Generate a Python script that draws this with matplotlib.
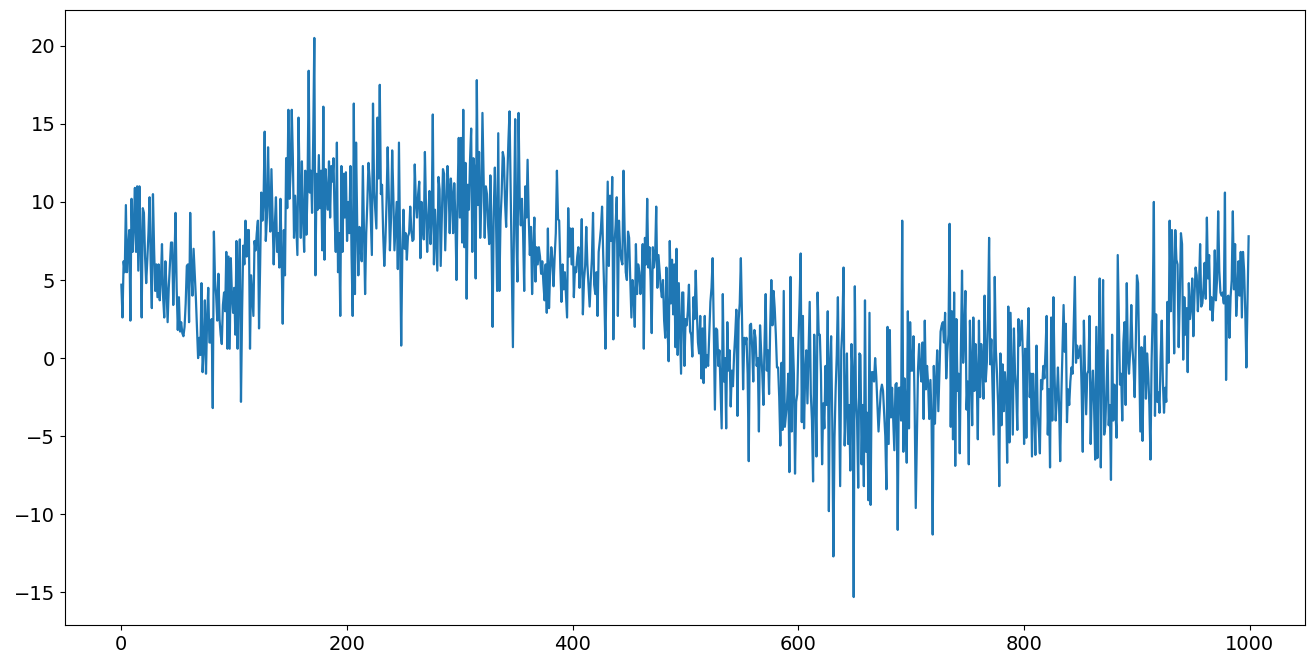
import numpy as np
import matplotlib
matplotlib.use("Agg")
import matplotlib.pyplot as plt

# values, in blocks of ~100 samples
seg_a = [4.7, 2.6, 6.2, 5.5, 9.8, 5.5, 7.0, 8.2, 2.4, 10.2,
         6.8, 8.5, 10.9, 6.8, 11.0, 5.6, 11.0, 7.5, 2.6, 9.6,
         9.3, 6.5, 4.8, 6.3, 8.0, 10.3, 6.0, 3.2, 10.5, 7.0,
         4.3, 6.0, 3.9, 6.0, 3.7, 5.0, 7.3, 3.9, 2.6, 6.2,
         4.5, 2.3, 4.5, 6.0, 7.4, 7.4, 3.4, 6.0, 9.3, 4.5,
         1.8, 3.9, 1.7, 2.3, 1.6, 1.4, 2.0, 3.5, 5.9, 6.0,
         2.3, 9.3, 5.5, 4.0, 7.0, 5.5, 3.9, 2.0, 0.0, 1.3,
         0.2, 4.8, -0.9, 0.6, 3.7, -1.0, 2.5, 4.5, 1.0, 1.0,
         2.5, -3.2, 8.1, 5.0, 4.0, 2.4, 5.4, 2.5, 1.5, 0.9,
         3.4, 4.2, 3.0, 6.8, 0.6, 6.5]

seg_b = [0.6, 6.4, 4.0, 2.9, 4.5, 1.5, 7.5, 0.6, 5.0, 7.6,
         -2.8, 3.0, 7.2, 6.0, 8.8, 6.5, 8.2, 8.2, 0.6, 5.3,
         4.0, 2.7, 7.5, 6.9, 8.0, 8.8, 1.9, 6.0, 10.6, 8.8,
         10.0, 14.5, 7.5, 9.0, 13.5, 10.0, 8.1, 12.1, 9.0, 6.0,
         8.5, 10.3, 6.8, 8.0, 5.8, 10.2, 6.5, 2.2, 8.2, 5.3,
         12.8, 9.6, 15.9, 10.2, 12.0, 15.9, 12.8, 7.7, 10.4, 8.5,
         6.6, 15.4, 11.0, 7.7, 12.6, 9.0, 6.8, 12.0, 7.9, 11.0,
         18.4, 10.6, 12.0, 9.3, 14.0, 20.5, 5.3, 11.8, 9.5, 13.0,
         9.6, 12.0, 6.9, 16.1, 6.3, 12.1, 10.6, 9.5, 12.6, 9.0,
         12.3, 11.3, 12.8, 9.0, 6.8, 13.8, 5.5, 8.0, 2.7, 12.3,
         6.8, 11.8]

seg_c = [9.0, 11.9, 7.5, 10.0, 8.0, 12.3, 6.6, 2.7, 16.3, 4.1, 13.8,
         8.6, 5.3, 8.4, 7.0, 6.2, 12.3, 8.0, 4.1, 8.0, 10.0,
         12.5, 11.5, 9.0, 6.6, 16.3, 10.7, 9.5, 8.3, 15.4, 11.5,
         17.5, 10.5, 11.1, 8.0, 5.9, 7.5, 10.0, 13.5, 10.5, 6.9,
         9.0, 13.3, 10.5, 6.9, 8.5, 10.0, 5.7, 13.8, 7.0, 0.8,
         6.9, 9.5, 7.0, 8.0, 6.3, 7.8, 8.0, 9.7, 8.2, 7.5,
         7.6, 12.4, 10.0, 9.0, 10.5, 11.3, 6.4, 10.0, 8.5, 7.6,
         13.2, 9.5, 6.8, 9.0, 10.7, 7.3, 9.0, 15.6, 6.0, 9.5,
         7.5, 5.6, 11.6, 10.8, 5.9, 9.0, 12.1, 11.8, 6.9, 9.5,
         12.3, 11.0, 8.0, 11.5, 10.5, 8.0, 11.2, 9.0]

seg_d = [5.0, 10.5, 14.1, 9.0, 14.1, 7.4, 15.9, 7.1, 12.5, 3.8,
         11.1, 9.5, 12.7, 14.7, 6.8, 12.8, 12.0, 5.1, 17.8, 9.8,
         13.2, 7.7, 10.0, 15.7, 11.6, 7.7, 11.0, 10.5, 8.5, 7.3,
         11.7, 8.0, 2.0, 9.4, 12.2, 9.0, 4.3, 14.4, 4.3, 8.8,
         10.5, 13.2, 12.8, 10.0, 8.4, 11.5, 13.9, 15.8, 10.9, 6.0,
         0.7, 9.0, 15.3, 8.0, 4.9, 15.7, 10.3, 8.5, 10.2, 8.0,
         4.3, 11.0, 9.0, 12.7, 9.0, 6.6, 8.4, 4.1, 7.0, 9.0,
         4.9, 7.1, 6.0, 7.1, 6.5, 5.4, 6.2, 4.8, 3.7, 6.0,
         2.9, 8.3, 3.2, 5.5, 7.1, 6.3, 4.6, 6.5, 8.0, 12.0,
         8.9, 8.8, 5.8, 3.6, 6.0, 4.4, 5.5, 4.0, 2.6, 9.6,
         6.5, 8.3, 6.0]

seg_e = [8.3, 3.9, 5.8, 5.5, 6.5, 7.1, 4.5, 6.0, 8.9, 2.8,
         5.0, 5.9, 8.4, 6.0, 4.7, 3.3, 5.0, 6.4, 9.3, 4.7,
         4.1, 5.5, 2.7, 6.8, 7.5, 8.3, 9.7, 6.6, 4.0, 0.6,
         6.0, 11.3, 5.9, 10.4, 7.5, 11.6, 1.2, 7.3, 8.5, 10.3,
         2.7, 8.8, 7.0, 6.3, 6.0, 12.0, 8.1, 5.5, 5.0, 8.1,
         7.7, 5.0, 2.6, 5.0, 4.0, 2.0, 7.3, 4.1, 6.0, 5.5,
         4.1, 5.0, 7.3, 0.6, 7.7, 6.0, 10.2, 5.8, 7.1, 5.0,
         1.6, 7.1, 5.8, 6.5, 9.7, 4.5, 6.6, 5.5, 4.5, 3.9,
         5.0, 2.4, 1.3, 5.8, 2.0, -0.2, 7.5, 3.5, 6.3, 2.8,
         6.0, 0.7, 7.0, 0.2, 4.8, 2.0, -1.0, 4.2, 4.2, -0.5,
         2.5, 2.1, 3.0, 4.7, 1.7]

seg_f = [1.5, 0.1, 3.9, 2.5, 5.6, 3.0, 1.0, 0.3, 2.7, -1.3,
         1.9, -1.6, 2.7, -0.6, 0.2, -0.5, 1.5, 3.6, 4.5, 6.4,
         1.9, -3.3, 1.9, 1.8, -0.5, 0.5, -2.0, -4.5, 4.1, -1.5,
         0.0, -4.5, 2.3, -0.8, 0.5, -3.1, -0.8, -1.8, 0.2, 1.5,
         3.1, -3.7, 2.4, 3.5, 6.4, 2.7, -2.0, 1.3, 0.9, 1.3,
         -1.0, -6.6, 2.1, 2.2, 0.7, -1.5, 1.8, 1.3, -0.5, 0.0,
         -4.7, 2.1, 0.4, -1.0, -3.0, 1.0, 4.1, -0.8, 0.5, -2.3,
         2.0, 5.0, 2.1, 4.3, 3.2, 1.5, -0.6, -0.6, -2.5, -5.6,
         -0.3, -4.6, 4.3, -4.4, -3.6, -2.8, -1.0, -7.3, 5.2, -4.7,
         1.3, -1.0, -7.4, -2.8, -2.3, 1.0, 3.5, 6.7, -4.1, 2.7]

seg_g = [-4.5, -1.0, 0.5, -2.9, 0.5, 3.6, -2.3, -4.0, -7.9, 1.5,
         -1.5, -6.3, 4.2, 1.5, 1.5, -1.0, -6.8, -2.9, -4.5, -0.5,
         -3.0, 3.0, -9.8, -0.4, 1.4, -4.0, -12.7, -5.1, -2.0, 0.2,
         3.9, -2.0, -8.2, 0.5, 2.0, 5.8, -5.6, -3.2, 0.3, -5.5,
         -3.0, -7.2, 0.9, -1.0, -15.3, 4.6, -2.5, -4.0, -8.3, 0.3,
         0.2, -6.8, -3.0, -8.2, 3.7, -6.0, -3.5, -9.1, 2.9, -9.4,
         -0.9, -0.9, -1.5, 0.0, -1.2, -3.0, -4.7, -3.4, -2.1, -1.7,
         -2.1, -3.5, -5.0, -8.4, 2.0, -5.5, 1.8, -3.8, -1.9, -4.0,
         -5.9, -1.7, -1.6, -11.0, -1.9, -1.9, -4.0, 8.8, -6.0, -1.3,
         -3.0, -6.7, 3.0, -4.5, 2.3, -0.8, -0.8, 1.4, -3.0, -9.6,
         -5.1, -0.7, 0.9]

seg_h = [-0.7, -1.5, 1.0, -3.9, 2.4, -2.0, -0.5, -1.7, -3.9, -1.4,
         -3.9, -11.3, -0.5, -4.2, -1.5, 0.5, -3.4, -0.8, 1.7, 2.1,
         2.3, 1.0, 2.9, -1.3, 0.4, 1.5, 8.6, -4.4, 3.0, -5.2,
         4.2, -6.9, 2.5, -2.1, -1.0, -6.1, 0.5, 5.6, -0.3, 1.5,
         4.3, -3.3, -1.5, -6.8, 2.4, -0.5, -4.3, 2.6, -2.1, 0.9,
         -1.0, -5.2, 2.4, -2.5, 0.9, -0.5, -2.6, 4.0, -1.5, -0.3,
         2.5, 7.7, -0.4, 1.2, -2.0, -4.9, 5.2, 0.5, -1.0, -3.0,
         -8.2, 0.3, -4.3, -0.4, -3.4, -0.9, -2.0, -6.7, 3.3, -5.4,
         2.9, -1.0, -4.9, 1.9, -1.0, -2.0, -4.6, 2.5, 0.8, 1.5,
         2.4, 0.0, -5.5, 0.6, -5.1, 1.0, 3.2, -2.5, -1.0, -6.3,
         -1.0, -3.0, -6.2]

seg_i = [0.8, -3.3, -4.5, -6.1, -1.4, -2.0, -0.5, -1.3, 0.5, 2.7,
         -4.9, -2.0, -7.0, 2.6, -4.0, 3.9, -1.0, -4.0, -2.5, -0.6,
         -3.0, -6.6, -2.5, 0.5, 3.4, 0.4, 2.2, -4.1, -2.0, -3.0,
         -1.5, -0.6, -1.0, 2.0, 5.2, -0.3, 0.8, 0.0, 0.4, 0.8,
         -2.0, -6.0, 2.4, -1.0, -3.6, -1.0, -0.8, 2.7, -5.5, -2.3,
         -0.8, -3.0, -6.5, 2.0, -6.4, 0.0, 5.1, -7.0, -0.5, 5.0,
         -4.9, -4.3, -2.0, 0.5, -4.3, -3.0, -7.8, 1.5, -4.0, -1.7,
         -3.5, -5.1, 6.6, 2.4, -1.7, -1.0, -4.0, 1.0, 2.3, -3.0,
         4.8, 0.0, -1.0, 0.5, 3.4, 0.7, -0.5, -2.5, 1.0, 5.3,
         4.8, 0.0, -4.7, 0.7, -5.3, -0.2, 1.4, -2.6, 0.3, -1.0,
         -3.0, -6.5]

seg_j = [-0.2, 3.0, 10.0, -3.7, 2.8, -2.8, -2.2, -3.5, 0.0, 2.4,
         -1.5, -3.5, -1.9, -2.8, 3.6, -0.3, 8.8, 3.0, 8.2, 5.6,
         0.3, 8.2, 6.3, 6.0, 0.7, 4.0, 8.0, 7.3, -0.1, 3.9,
         1.5, 3.2, -0.9, 4.8, 2.5, 3.3, 5.1, 1.4, 4.0, 5.8,
         5.3, 3.0, 4.5, 7.3, 3.3, 3.5, 4.5, 6.1, 3.8, 9.0,
         5.1, 6.6, 3.1, 3.9, 2.4, 3.8, 6.9, 3.7, 5.0, 9.4,
         5.6, 4.2, 4.0, 4.2, 3.5, 10.6, -1.4, 3.9, 4.0, 1.3,
         3.9, 5.0, 9.4, 4.4, 7.3, 2.7, 4.2, 6.2, 4.0, 6.8,
         2.6, 6.8, 5.6, 3.0, -0.6, 3.5, 7.8]

y = np.array(seg_a + seg_b + seg_c + seg_d + seg_e + seg_f + seg_g + seg_h + seg_i + seg_j)
x = np.arange(len(y))

fig, ax = plt.subplots(figsize=(13.13, 6.66), dpi=100)
fig.subplots_adjust(left=65/1313, right=1305/1313, top=1-10/666, bottom=1-625/666)

ax.plot(x, y, color='#1f77b4', linewidth=1.6)
ax.tick_params(labelsize=14)

plt.savefig("out.png")
